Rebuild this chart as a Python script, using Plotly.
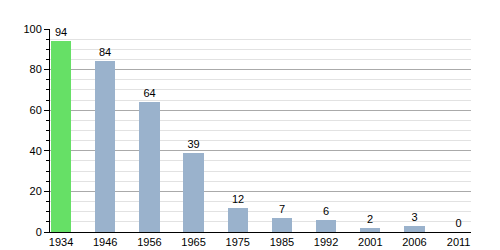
import plotly.graph_objects as go

years = ["1934", "1946", "1956", "1965", "1975", "1985", "1992", "2001", "2006", "2011"]
values = [94, 84, 64, 39, 12, 7, 6, 2, 3, 0]
colors = ["#66e066"] + ["#9ab2cc"] * 9

x = list(range(len(years)))
fig = go.Figure(go.Bar(
    x=x, y=values, width=0.46,
    marker=dict(color=colors, line=dict(width=0)),
    text=[str(v) for v in values], textposition="outside",
    textfont=dict(family="Liberation Sans, Arial", size=11, color="#000"),
    cliponaxis=False,
))
fig.update_layout(
    width=500, height=250,
    margin=dict(l=50, r=29, t=29, b=18),
    plot_bgcolor="white", paper_bgcolor="white",
    showlegend=False,
    font=dict(family="Liberation Sans, Arial", size=11, color="#000"),
    bargap=0,
)
fig.update_xaxes(
    tickvals=x, ticktext=years, range=[-0.25, 9.28],
    showline=True, linecolor="#000", linewidth=1,
    showgrid=False, ticks="", zeroline=False, automargin=False,
)
fig.update_yaxes(
    range=[0, 100], dtick=20, showline=True, linecolor="#000", linewidth=1,
    showgrid=True, gridcolor="#aaaaaa", gridwidth=1,
    ticks="outside", ticklen=5, tickcolor="#000", zeroline=False, automargin=False,
    minor=dict(dtick=5, showgrid=True, gridcolor="#e2e2e2", ticks="outside", ticklen=3, tickcolor="#000"),
)
fig.write_html("out.html")
